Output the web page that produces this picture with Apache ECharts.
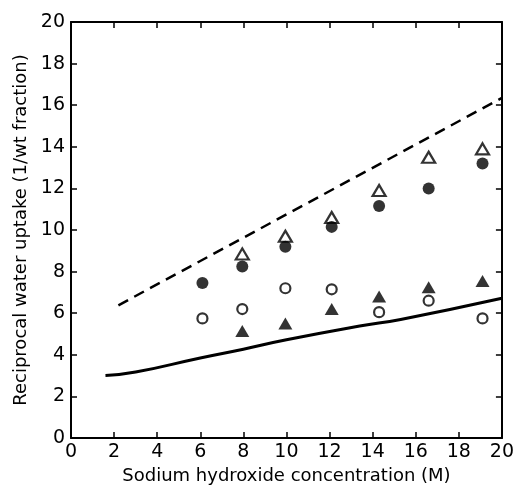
<!DOCTYPE html>
<html>
<head>
<meta charset="utf-8">
<script src="https://cdn.jsdelivr.net/npm/echarts@6/dist/echarts.min.js"></script>
<style>html,body{margin:0;padding:0;background:#fff}#c{width:517px;height:493px}</style>
</head>
<body>
<div id="c"></div>
<script>
// Data
const xTicks = [0, 2, 4, 6, 8, 10, 12, 14, 16, 18, 20];
const concCircles = [6.1, 7.95, 9.95, 12.1, 14.3, 16.6, 19.1];
const concTriangles = [7.95, 9.95, 12.1, 14.3, 16.6, 19.1];
const filledCircleY = [7.45, 8.25, 9.2, 10.15, 11.15, 12.0, 13.2];
const openCircleY = [5.75, 6.2, 7.2, 7.15, 6.05, 6.6, 5.75];
const openTriangleY = [8.85, 9.7, 10.6, 11.9, 13.5, 13.9];
const filledTriangleY = [5.15, 5.5, 6.2, 6.8, 7.25, 7.55];
const solidLineX = [1.6, 3.0, 6.0, 8.0, 10.0, 13.4, 15.3, 20.0];
const solidLineY = [3.0, 3.17, 3.85, 4.27, 4.72, 5.38, 5.7, 6.72];
const dashedLineX = [2.2, 20.0];
const dashedLineY = [6.38, 16.35];

const pair = (xs, ys) => xs.map((x, i) => [x, ys[i]]);
const font = 'DejaVu Sans';
const chart = echarts.init(document.getElementById('c'), null, {renderer: 'canvas'});
const axisCommon = {
  type: 'value', min: 0, max: 20, interval: 2,
  axisLine: {show: true, onZero: false, lineStyle: {color: '#000', width: 2}},
  axisTick: {show: true, inside: true, length: 6, lineStyle: {color: '#000', width: 1.5}},
  splitLine: {show: false}
};
chart.setOption({
  animation: false,
  backgroundColor: '#fff',
  grid: {left: 71, right: 15, top: 22, bottom: 55},
  xAxis: [
    Object.assign({}, axisCommon, {
      position: 'bottom',
      axisLabel: {color: '#000', fontFamily: font, fontSize: 19, margin: 5},
      name: 'Sodium hydroxide concentration (M)',
      nameLocation: 'middle', nameGap: 29,
      nameTextStyle: {color: '#000', fontFamily: font, fontSize: 18}
    }),
    Object.assign({}, axisCommon, {position: 'top', axisLabel: {show: false}})
  ],
  yAxis: [
    Object.assign({}, axisCommon, {
      position: 'left',
      axisLabel: {color: '#000', fontFamily: font, fontSize: 19, margin: 6},
      name: 'Reciprocal water uptake (1/wt fraction)',
      nameLocation: 'middle', nameGap: 40,
      nameTextStyle: {color: '#000', fontFamily: font, fontSize: 18}
    }),
    Object.assign({}, axisCommon, {position: 'right', axisLabel: {show: false}})
  ],
  series: [
    {type: 'line', data: pair(solidLineX, solidLineY), showSymbol: false, symbol: 'none',
     smooth: true, lineStyle: {color: '#000', width: 3}},
    {type: 'line', data: pair(dashedLineX, dashedLineY), showSymbol: false, symbol: 'none',
     lineStyle: {color: '#000', width: 2.5, type: [11, 7]}},
    {type: 'scatter', data: pair(concTriangles, openTriangleY), symbol: 'triangle', symbolSize: [13, 11],
     itemStyle: {color: '#fff', borderColor: '#000', borderWidth: 2.2}},
    {type: 'scatter', data: pair(concCircles, filledCircleY), symbol: 'circle', symbolSize: 12,
     itemStyle: {color: '#000'}},
    {type: 'scatter', data: pair(concCircles, openCircleY), symbol: 'circle', symbolSize: 10,
     itemStyle: {color: '#fff', borderColor: '#000', borderWidth: 2.2}},
    {type: 'scatter', data: pair(concTriangles, filledTriangleY), symbol: 'triangle', symbolSize: [14, 12],
     itemStyle: {color: '#000'}}
  ]
});
</script>
</body>
</html>
